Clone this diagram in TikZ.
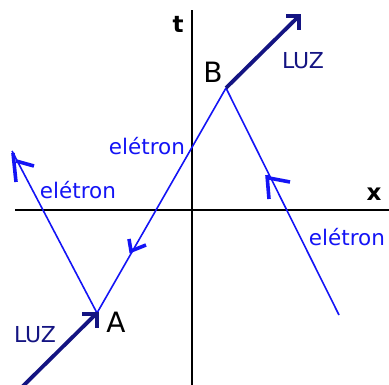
\documentclass[tikz,border=0pt]{standalone}
\usepackage{fontspec}
\setmainfont{DejaVu Sans}
\definecolor{eblue}{RGB}{20,20,245}
\definecolor{navy}{RGB}{20,20,130}
\tikzset{
  axis/.style={draw=black,line width=1.4pt},
  eline/.style={draw=eblue,line width=1.6pt},
  ebarb/.style={draw=eblue,line width=3.6pt,line join=miter},
  luz/.style={draw=navy,line width=3.8pt},
  lbarb/.style={draw=navy,line width=4pt,line join=miter},
  elab/.style={text=eblue,font=\fontsize{21.5}{22}\selectfont,inner sep=0pt},
  luzlab/.style={text=navy,font=\fontsize{22}{23}\selectfont,inner sep=0pt},
  ptlab/.style={text=black,font=\fontsize{28}{30}\selectfont,inner sep=0pt},
  axlab/.style={text=black,font=\bfseries\fontsize{23}{24}\selectfont,inner sep=0pt}
}
\begin{document}
\begin{tikzpicture}[x=1pt,y=-1pt]
\useasboundingbox (0,0) rectangle (389,385);
% axes
\coordinate (ttop) at (192,10);
\coordinate (tbot) at (192,385);
\coordinate (xl) at (15,210);
\coordinate (xr) at (389,210);
\draw[axis] (tbot) -- (ttop);
\draw[axis] (xl) -- (xr);
\node[axlab] (t) at (178,24) {t};
\node[axlab] (x) at (374,194) {x};
% events
\coordinate (A) at (97,313);
\coordinate (B) at (226,88);
\coordinate (L1) at (12,151);
\coordinate (R1) at (339,315);
\coordinate (Ltop) at (298,17);
\coordinate (Lbot) at (21,388);
% electron lines
\draw[eline] (A) -- (L1);
\draw[eline] (B) -- (A);
\draw[eline] (R1) -- (B);
% electron arrowheads (barbs)
\coordinate (la1) at (13,153); \coordinate (la2) at (16,182);
\coordinate (la3) at (16,161); \coordinate (la4) at (34,166);
\draw[ebarb] (la1) -- (la2);
\draw[ebarb] (la3) -- (la4);
\coordinate (ra1) at (267,175); \coordinate (ra2) at (269,199);
\coordinate (ra3) at (269,178); \coordinate (ra4) at (290,182);
\draw[ebarb] (ra1) -- (ra2);
\draw[ebarb] (ra3) -- (ra4);
\coordinate (ma1) at (129,239); \coordinate (ma2) at (131,251);
\coordinate (ma3) at (146,245);
\draw[ebarb] (ma1) -- (ma2) -- (ma3);
% light
\draw[luz] (B) -- (Ltop);
\draw[luz] (Lbot) -- (A);
\coordinate (ta1) at (286,16); \coordinate (ta2) at (299,16); \coordinate (ta3) at (299,30);
\draw[lbarb] (ta1) -- (ta2) -- (ta3);
\coordinate (ba1) at (82,314); \coordinate (ba2) at (97,314); \coordinate (ba3) at (97,328);
\draw[lbarb] (ba1) -- (ba2) -- (ba3);
% labels
\node[ptlab] (Blab) at (213,72) {B};
\node[ptlab] (Alab) at (116,322) {A};
\node[luzlab] (luz1) at (303,61) {LUZ};
\node[luzlab] (luz2) at (35,335) {LUZ};
\node[elab] (e1) at (147,146) {elétron};
\node[elab] (e2) at (78,190) {elétron};
\node[elab] (e3) at (347,237) {elétron};
\end{tikzpicture}
\end{document}
